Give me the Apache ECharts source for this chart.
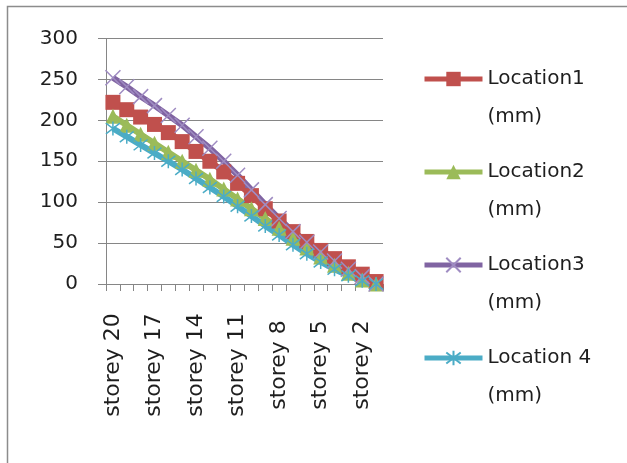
<!DOCTYPE html>
<html>
<head>
<meta charset="utf-8">
<script src="https://cdn.jsdelivr.net/npm/echarts/dist/echarts.min.js"></script>
<style>
    html, body { margin: 0; padding: 0; background: #fff; }
    #chart { width: 627px; height: 463px; }
</style>
</head>
<body>
<div id="chart"></div>
<script>
const storeys = ['storey 20', 'storey 19', 'storey 18', 'storey 17', 'storey 16', 'storey 15', 'storey 14',
    'storey 13', 'storey 12', 'storey 11', 'storey 10', 'storey 9', 'storey 8', 'storey 7', 'storey 6',
    'storey 5', 'storey 4', 'storey 3', 'storey 2', 'storey 1'];

const location1 = [222, 213, 204, 195, 185, 174, 162, 150, 137, 123, 108, 92, 77, 64, 52, 41, 31, 21, 12, 3];
const location2 = [205, 194, 183, 172, 161, 150, 139, 128, 116, 104, 92, 80, 68, 56, 44, 33, 23, 13, 5, 0];
const location3 = [252, 241, 229, 218, 206, 194, 180, 166, 150, 133, 115, 97, 80, 64, 51, 39, 28, 18, 9, 0];
const location4 = [190, 180, 170, 160, 150, 140, 129, 118, 107, 95, 83, 71, 60, 48, 37, 27, 18, 10, 4, 0];

const seriesNames = ['Location1 (mm)', 'Location2 (mm)', 'Location3 (mm)', 'Location 4 (mm)'];
const yTicks = [0, 50, 100, 150, 200, 250, 300];

const font = 'DejaVu Sans';
const crossPath = 'path://M0,0 L10,10 M10,0 L0,10';
const starPath = 'path://M0,0 L10,10 M10,0 L0,10 M5,-1.5 L5,11.5';

let chart = echarts.init(document.getElementById('chart'));

function lineSeries(name, data, color, symbol, size, stroked) {
    let s = {
        name: name,
        type: 'line',
        data: data,
        symbol: symbol,
        symbolSize: size,
        showAllSymbol: true,
        lineStyle: { color: color, width: 6 },
        itemStyle: { color: color },
        emphasis: { disabled: true }
    };
    if (stroked) {
        s.itemStyle = { color: 'rgba(0,0,0,0)', borderColor: stroked, borderWidth: 1.5 };
    }
    return s;
}

let option = {
    backgroundColor: '#fff',
    animation: false,
    graphic: [{
        type: 'rect',
        shape: { x: 7.5, y: 6.5, width: 660, height: 500 },
        style: { fill: 'none', stroke: '#8c8c8c', lineWidth: 1.5 }
    }],
    grid: {
        left: 106,
        top: 38.5,
        width: 277,
        height: 245.5,
        containLabel: false,
        outerBoundsMode: 'none'
    },
    legend: {
        orient: 'vertical',
        left: 422,
        top: 22,
        padding: 0,
        itemWidth: 58,
        itemHeight: 18,
        itemGap: -21,
        data: seriesNames,
        lineStyle: { width: 5 },
        formatter: function (name) {
            return '\n' + name.replace(' (mm)', '\n(mm)');
        },
        textStyle: {
            fontFamily: font,
            fontSize: 20,
            color: '#1e1e1e',
            lineHeight: 38
        }
    },
    xAxis: {
        type: 'category',
        data: storeys,
        boundaryGap: true,
        axisLine: { lineStyle: { color: '#868686', width: 1 } },
        axisTick: { show: true, interval: 0, length: 7, lineStyle: { color: '#868686' } },
        axisLabel: {
            interval: 2,
            rotate: 90,
            align: 'center',
            margin: 81,
            fontFamily: font,
            fontSize: 22,
            color: '#1e1e1e'
        },
        splitLine: { show: false }
    },
    yAxis: {
        type: 'value',
        min: yTicks[0],
        max: yTicks[yTicks.length - 1],
        interval: 50,
        axisLine: { show: true, lineStyle: { color: '#868686', width: 1 } },
        axisTick: { show: true, length: 8, lineStyle: { color: '#868686' } },
        axisLabel: {
            margin: 28,
            fontFamily: font,
            fontSize: 20,
            color: '#1e1e1e'
        },
        splitLine: { show: true, lineStyle: { color: '#868686', width: 1 } }
    },
    series: [
        lineSeries(seriesNames[0], location1, '#C0504D', 'rect', 15),
        lineSeries(seriesNames[1], location2, '#9BBB59', 'triangle', 15),
        lineSeries(seriesNames[2], location3, '#8064A2', crossPath, 15, '#9f8cc2'),
        lineSeries(seriesNames[3], location4, '#4BACC6', starPath, 14, '#4BACC6')
    ]
};

chart.setOption(option);
</script>
</body>
</html>
